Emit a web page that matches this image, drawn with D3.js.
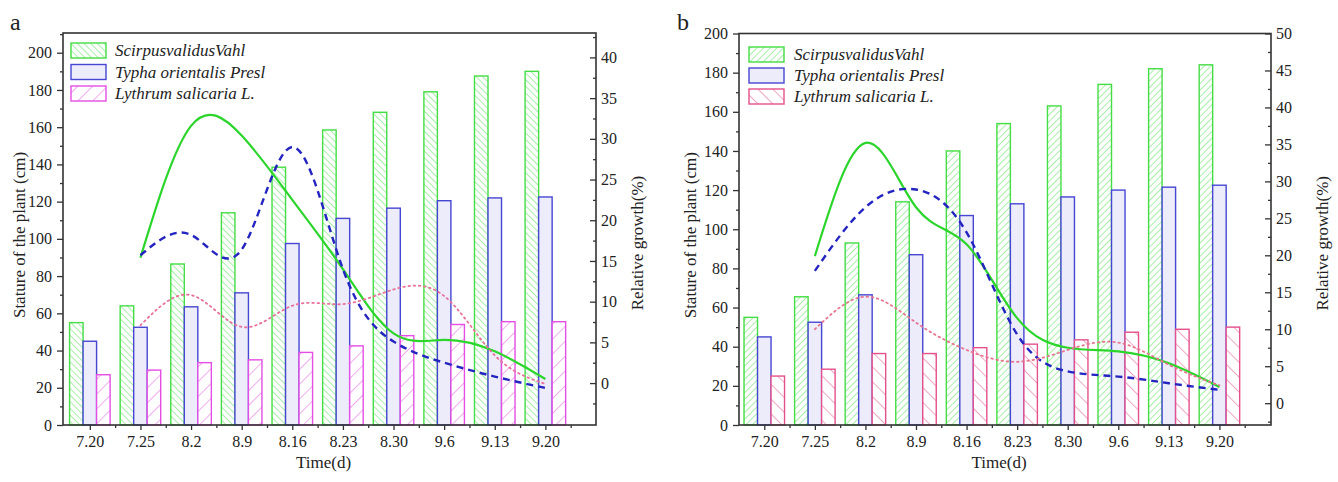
<!DOCTYPE html>
<html><head><meta charset="utf-8">
<script src="https://cdn.jsdelivr.net/npm/d3@7"></script>
<style>
body{margin:0;background:#fff}
svg{display:block}
</style>
</head><body>
<svg id="chart" width="1338" height="482" font-family="'Liberation Serif', 'Times New Roman', 'DejaVu Serif', serif"></svg>
<script>
// ---------------- data ----------------
const categories = ["7.20","7.25","8.2","8.9","8.16","8.23","8.30","9.6","9.13","9.20"];
const seriesNames = ["ScirpusvalidusVahl","Typha orientalis Presl","Lythrum salicaria L."];

// panel a – stature (cm)
const aScirpus = [55,64,86.5,114,138.5,158.5,168,179,187.5,190];
const aTypha   = [45,52.5,63.5,71,97.5,111,116.5,120.5,122,122.5];
const aLythrum = [27,29.5,33.5,35,39,42.5,48,54,55.5,55.5];
// panel a – relative growth (%), from 7.25 on
const aGrowthScirpus = [null,15.4,31.6,30.4,22.5,14,6.1,5.3,3.9,0.5];
const aGrowthTypha   = [null,15.7,18.2,16.4,29,14,5.1,2.5,0.8,-0.6];
const aGrowthLythrum = [null,7.1,10.8,6.9,9.5,9.7,11.5,10.7,3.4,-0.1];

// panel b – stature (cm)
const bScirpus = [55,65.5,93,114,140,154,163,174,182,184];
const bTypha   = [45,52.5,66.5,87,107,113,116.5,120,121.5,122.5];
const bLythrum = [25,28.5,36.5,36.5,39.5,41.3,43.5,47.4,48.9,50];
// panel b – relative growth (%)
const bGrowthScirpus = [null,19.9,35.2,26.5,21.5,11.5,7.5,7.0,5.4,2.2];
const bGrowthTypha   = [null,17.9,26.5,28.9,23.1,9.3,4.3,3.6,2.7,1.8];
const bGrowthLythrum = [null,10.0,14.4,10.9,7.2,5.6,7.2,8.2,5.2,2.4];

// ticks
const leftTicksA  = [0,20,40,60,80,100,120,140,160,180,200];
const rightTicksA = [0,5,10,15,20,25,30,35,40];
const leftTicksB  = [0,20,40,60,80,100,120,140,160,180,200];
const rightTicksB = [0,5,10,15,20,25,30,35,40,45,50];

// ---------------- drawing ----------------
const FONT = "'Liberation Serif', 'Times New Roman', 'DejaVu Serif', serif";
const svg = d3.select("#chart");
const defs = svg.append("defs");

function hatch(id, color, spacing, angle, width){
  const p = defs.append("pattern").attr("id", id)
    .attr("patternUnits","userSpaceOnUse")
    .attr("width", spacing).attr("height", spacing)
    .attr("patternTransform", `rotate(${angle})`);
  p.append("rect").attr("width",spacing).attr("height",spacing).attr("fill","#fff");
  p.append("line").attr("x1",0).attr("y1",-1).attr("x2",0).attr("y2",spacing+1)
    .attr("stroke",color).attr("stroke-width",width);
}
hatch("aGreen", "#55e055", 4.7, -45, 1);
hatch("aPink",  "#e45ce4", 10.5, 45, 1);
hatch("bGreen", "#55e055", 4.7, 45, 1);
hatch("bPink",  "#e4508c", 10.5, -45, 1);

const panels = [
  {
    letter:"a", letterX:10, x0:63, x1:596, y0:33, y1:425,
    xDomain:[-0.53,10.0], leftDomain:[0,210.6], rightDomain:[-5.15,43],
    leftTicks:leftTicksA, leftMinorStep:10, rightTicks:rightTicksA, rightMinorStep:2.5,
    bars:[aScirpus,aTypha,aLythrum], lines:[aGrowthScirpus,aGrowthTypha,aGrowthLythrum],
    fills:["url(#aGreen)","#ececfb","url(#aPink)"],
    strokes:["#44dd44","#4646d2","#e44ee4"],
    dotColor:"#e8709a",
    legendX:71, legendY:43, legendPitch:21.5, textX:115,
    leftTitleX:19, rightTitleX:637
  },
  {
    letter:"b", letterX:677, x0:739, x1:1271, y0:33.5, y1:425,
    xDomain:[-0.5,10.02], leftDomain:[0,200], rightDomain:[-2.95,50],
    leftTicks:leftTicksB, leftMinorStep:10, rightTicks:rightTicksB, rightMinorStep:2.5,
    bars:[bScirpus,bTypha,bLythrum], lines:[bGrowthScirpus,bGrowthTypha,bGrowthLythrum],
    fills:["url(#bGreen)","#ececfb","url(#bPink)"],
    strokes:["#44dd44","#4646d2","#e4508c"],
    dotColor:"#e8758f",
    legendX:749, legendY:47, legendPitch:21, textX:794,
    leftTitleX:690, rightTitleX:1322
  }
];

panels.forEach(P => {
  const g = svg.append("g");
  const x = d3.scaleLinear().domain(P.xDomain).range([P.x0, P.x1]);
  const yL = d3.scaleLinear().domain(P.leftDomain).range([P.y1, P.y0]);
  const yR = d3.scaleLinear().domain(P.rightDomain).range([P.y1, P.y0]);
  const bw = x(0.267) - x(0);

  // bars
  P.bars.forEach((arr, k) => {
    g.append("g").selectAll("rect").data(arr).join("rect")
      .attr("x", (d,i) => x(i) - 1.5*bw + k*bw)
      .attr("y", d => yL(d))
      .attr("width", bw)
      .attr("height", d => yL(0) - yL(d))
      .attr("fill", P.fills[k])
      .attr("stroke", P.strokes[k])
      .attr("stroke-width", 1.4);
  });

  // growth lines
  const line = d3.line()
    .defined(d => d.v !== null)
    .x(d => x(d.i)).y(d => yR(d.v))
    .curve(d3.curveNatural);
  const styles = [
    {stroke:"#2bd52b", w:2.2, dash:null},
    {stroke:"#2424c0", w:2.4, dash:"7,5"},
    {stroke:P.dotColor, w:1.8, dash:"1.6,3.6"}
  ];
  P.lines.forEach((arr, k) => {
    const pts = arr.map((v,i)=>({i, v})).filter(d => d.v !== null);
    g.append("path").datum(pts)
      .attr("d", line)
      .attr("fill","none")
      .attr("stroke", styles[k].stroke)
      .attr("stroke-width", styles[k].w)
      .attr("stroke-dasharray", styles[k].dash)
      .attr("stroke-linecap", k===2 ? "round" : "butt");
  });

  // frame
  g.append("rect").attr("x",P.x0).attr("y",P.y0)
    .attr("width",P.x1-P.x0).attr("height",P.y1-P.y0)
    .attr("fill","none").attr("stroke","#333").attr("stroke-width",1.6);

  const styleAxis = sel => {
    sel.attr("font-family", FONT);
    sel.select(".domain").remove();
    sel.selectAll("line").attr("stroke","#333").attr("stroke-width",1.3);
    sel.selectAll("text").style("font-size","16px").style("font-family",FONT).attr("fill","#222");
  };

  // bottom axis
  g.append("g").attr("transform",`translate(0,${P.y1})`)
    .call(d3.axisBottom(x).tickValues(d3.range(10)).tickSize(5).tickPadding(6)
      .tickFormat(i => categories[i]))
    .call(styleAxis);
  g.append("g").attr("transform",`translate(0,${P.y1})`)
    .call(d3.axisBottom(x).tickValues(d3.range(0.5,10,1)).tickSize(3).tickFormat(""))
    .call(styleAxis);

  // left axis
  g.append("g").attr("transform",`translate(${P.x0},0)`)
    .call(d3.axisLeft(yL).tickValues(P.leftTicks).tickSize(6).tickPadding(5))
    .call(styleAxis);
  const lMinor = d3.range(P.leftDomain[0], P.leftDomain[1]+0.01, P.leftMinorStep)
    .filter(v => !P.leftTicks.includes(v));
  g.append("g").attr("transform",`translate(${P.x0},0)`)
    .call(d3.axisLeft(yL).tickValues(lMinor).tickSize(3).tickFormat(""))
    .call(styleAxis);

  // right axis (ticks inward)
  const rAxis = g.append("g").attr("transform",`translate(${P.x1},0)`)
    .call(d3.axisRight(yR).tickValues(P.rightTicks).tickSize(6).tickPadding(5))
    .call(styleAxis);
  rAxis.selectAll("line").attr("x2",-6);
  const rMinor = d3.range(-2.5, P.rightDomain[1], P.rightMinorStep)
    .filter(v => !P.rightTicks.includes(v) && v > P.rightDomain[0]);
  const rm = g.append("g").attr("transform",`translate(${P.x1},0)`)
    .call(d3.axisRight(yR).tickValues(rMinor).tickSize(3).tickFormat(""))
    .call(styleAxis);
  rm.selectAll("line").attr("x2",-3);
  rAxis.selectAll("text").attr("x",5);

  const txt = (sel, size) => sel.style("font-family",FONT).style("font-size",size).attr("fill","#222");

  // titles
  g.append("text").attr("x",(P.x0+P.x1)/2 - 6).attr("y",468)
    .attr("text-anchor","middle").call(txt,"17px").text("Time(d)");
  g.append("text").attr("transform",`translate(${P.leftTitleX},${(P.y0+P.y1)/2+6}) rotate(-90)`)
    .attr("text-anchor","middle").attr("dy","0.35em").call(txt,"17px")
    .text("Stature of the plant (cm)");
  g.append("text").attr("transform",`translate(${P.rightTitleX},${(P.y0+P.y1)/2+14}) rotate(-90)`)
    .attr("text-anchor","middle").attr("dy","0.35em").call(txt,"17px")
    .text("Relative growth(%)");
  g.append("text").attr("x",P.letterX).attr("y",30).call(txt,"24px").text(P.letter);

  // legend
  seriesNames.forEach((name,k) => {
    const yy = P.legendY + k*P.legendPitch;
    g.append("rect").attr("x",P.legendX).attr("y",yy).attr("width",35).attr("height",15)
      .attr("fill",P.fills[k]).attr("stroke",P.strokes[k]).attr("stroke-width",1.4);
    g.append("text").attr("x",P.textX).attr("y",yy+13)
      .call(txt,"17px").style("font-style","italic").text(name);
  });
});
</script>
</body></html>
